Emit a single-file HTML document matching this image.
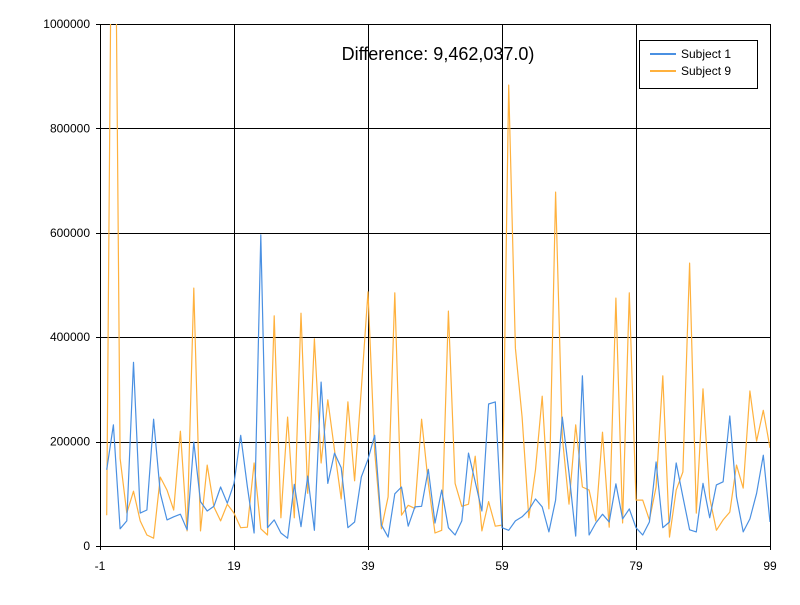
<!DOCTYPE html>
<html><head><meta charset="utf-8"><style>
body{margin:0;background:#fff;}
svg text{font-family:"Liberation Sans",sans-serif;}
</style></head><body>
<svg id="chart" width="800" height="600" xmlns="http://www.w3.org/2000/svg">
<defs><clipPath id="plotclip"><rect x="100" y="24" width="670" height="522"/></clipPath></defs>
<rect width="800" height="600" fill="#fff"/>
<g id="grid"></g>
<g id="series" clip-path="url(#plotclip)"></g>
<g id="axes"></g>
<text x="438" y="60" text-anchor="middle" font-size="18" fill="#000">Difference: 9,462,037.0)</text>
<g>
<rect x="639.5" y="40.5" width="118" height="48" fill="#fff" stroke="#000"/>
<line x1="650" y1="54" x2="676" y2="54" stroke="#4a90e2" stroke-width="2"/>
<text x="681" y="58" font-size="12">Subject 1</text>
<line x1="650" y1="71" x2="676" y2="71" stroke="#ffb13d" stroke-width="2"/>
<text x="681" y="75" font-size="12">Subject 9</text>
</g>
</svg>
<script>
const subject1 = [146000,232000,33000,48000,352000,63000,69000,243000,101000,50000,56000,61000,31000,199000,85000,67000,76000,113000,82000,120000,
212000,113000,25000,596000,35000,50000,25000,15000,118000,37000,134000,30000,314000,120000,178000,150000,35000,46000,132000,166000,
212000,40000,17000,100000,113000,38000,75000,76000,147000,44000,107000,35000,21000,48000,178000,123000,67000,272000,276000,35000,
30000,48000,56000,69000,90000,75000,27000,88000,247000,140000,19000,326000,21000,44000,61000,46000,119000,52000,71000,35000,
21000,46000,161000,35000,46000,159000,94000,31000,27000,120000,54000,117000,123000,249000,94000,27000,52000,101000,174000,46000];
const subject9 = [59000,1700000,168000,63000,105000,48000,21000,15000,132000,107000,69000,220000,29000,494000,29000,155000,75000,48000,80000,63000,
35000,36000,159000,33000,21000,441000,54000,247000,54000,446000,101000,397000,159000,280000,184000,90000,276000,125000,300000,487000,
180000,33000,94000,485000,59000,78000,72000,243000,120000,25000,30000,450000,120000,76000,80000,172000,29000,85000,38000,40000,
883000,379000,247000,54000,146000,287000,71000,678000,209000,80000,232000,113000,107000,48000,218000,36000,475000,44000,485000,88000,
88000,50000,113000,326000,17000,107000,142000,542000,63000,301000,92000,30000,50000,65000,155000,111000,297000,201000,260000,188000];
const xTicks = [-1,19,39,59,79,99];
const yTicks = [0,200000,400000,600000,800000,1000000];

const X0=100,X1=770,Y0=546,Y1=24;
const xMin=-1,xMax=99,yMin=0,yMax=1000000;
function sx(v){return X0+(v-xMin)/(xMax-xMin)*(X1-X0);}
function sy(v){return Y0-(v-yMin)/(yMax-yMin)*(Y0-Y1);}
const NS="http://www.w3.org/2000/svg";
function mk(tag,attrs,parent){const e=document.createElementNS(NS,tag);for(const k in attrs)e.setAttribute(k,attrs[k]);parent.appendChild(e);return e;}
const grid=document.getElementById('grid'),axes=document.getElementById('axes'),series=document.getElementById('series');
xTicks.forEach(t=>{
  const x=Math.round(sx(t))+0.5;
  const l=mk('line',{x1:x,y1:Y1,x2:x,y2:Y0+4,stroke:'#000','stroke-width':1},grid);
  
  
  const tx=mk('text',{x:sx(t),y:570,'text-anchor':'middle','font-size':12},axes);
  tx.textContent=t;
  
  
});
yTicks.forEach(t=>{
  const y=Math.round(sy(t))+0.5;
  const l=mk('line',{x1:X0-4,y1:y,x2:X1,y2:y,stroke:'#000','stroke-width':1},grid);
  
  
  const tx=mk('text',{x:90,y:sy(t)+4,'text-anchor':'end','font-size':12},axes);
  tx.textContent=t;
  
  
});
function drawSeries(arr,color,name){
  const pts=arr.map((v,i)=>sx(i).toFixed(1)+','+sy(v).toFixed(1)).join(' ');
  const p=mk('polyline',{points:pts,fill:'none',stroke:color,'stroke-width':1.2,'stroke-linejoin':'round'},series);
  
  
}
drawSeries(subject9,'#ffb13d','subject-9-line');
drawSeries(subject1,'#4a90e2','subject-1-line');
</script>
</body></html>
